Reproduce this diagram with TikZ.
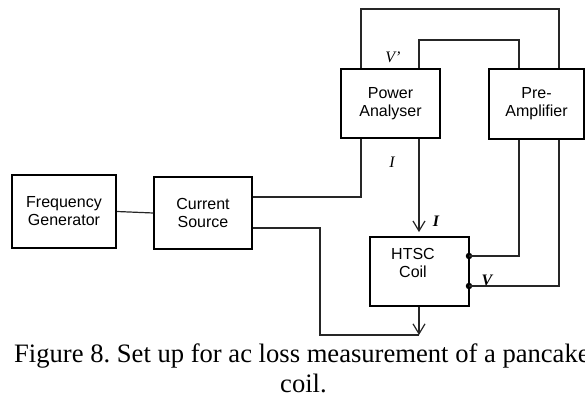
\documentclass[tikz,border=0pt]{standalone}
\usepackage{fontspec}
\setmainfont{Liberation Serif}
\newfontfamily\boxfont{Liberation Sans}
\usetikzlibrary{arrows.meta}
\frenchspacing
\begin{document}
\begin{tikzpicture}[x=1pt,y=-1pt,
  unit/.style={draw, line width=1.8pt, inner sep=0pt, align=center,
    font=\boxfont\fontsize{16}{18}\selectfont},
  boxtext/.style={inner sep=0pt, align=center, font=\boxfont\fontsize{16}{18}\selectfont},
  wire/.style={line width=1.2pt, black!85},
  flow/.style={wire, -{Straight Barb[length=10pt,width=12pt,line width=1.2pt]}},
  sym/.style={inner sep=0pt, font=\itshape\fontsize{16}{18}\selectfont},
  bsym/.style={inner sep=0pt, font=\bfseries\itshape\fontsize{16}{18}\selectfont},
  tap/.style={circle, fill=black, inner sep=0pt, minimum size=6.5pt},
  caption/.style={inner sep=0pt, anchor=base west, font=\fontsize{26.6}{30}\selectfont}]
\useasboundingbox (0,0) rectangle (585,398);

% instrument blocks
\node[unit, minimum width=104pt, minimum height=73pt, line width=2.2pt] (fg)  at (64,211.5)  {Frequency\\Generator};
\node[unit, minimum width=98pt,  minimum height=72pt, line width=1.5pt] (cs)  at (203,213)  {Current\\Source};
\node[unit, minimum width=99pt,  minimum height=69pt] (pa)  at (390.5,103.5) {Power\\Analyser};
\node[unit, minimum width=95pt,  minimum height=70pt] (amp) at (536.5,104) {Pre-\\Amplifier};
\node[unit, minimum width=99pt,  minimum height=69pt] (coil) at (419.5,271.5) {};
\node[boxtext] (coiltext) at (413,263) {HTSC\\Coil};

% routing points
\coordinate (csa) at (361,197);
\coordinate (csb) at (320,228);
\coordinate (ret) at (419,335);
\coordinate (o1) at (361,9);
\coordinate (o2) at (559,9);
\coordinate (i1) at (419,40);
\coordinate (i2) at (519,40);
\node[tap] (t1) at (469,256) {};
\node[tap] (t2) at (469,286) {};

% current path
\draw[wire] (fg.east) -- (cs.west);
\draw[wire] (cs.east |- csa) -- (csa) -- (csa |- pa.south);
\draw[wire] (cs.east |- csb) -- (csb) -- (csb |- ret) -- (ret);
\draw[flow] (ret |- coil.south) -- (ret);
\draw[flow, shorten >=4pt] (ret |- pa.south) -- (ret |- coil.north);

% voltage loops
\draw[wire] (o1 |- pa.north) -- (o1) -- (o2) -- (o2 |- amp.north);
\draw[wire] (i1 |- pa.north) -- (i1) -- (i2) -- (i2 |- amp.north);
\draw[wire] (t1.center) -- (t1 -| i2) -- (i2 |- amp.south);
\draw[wire] (t2.center) -- (t2 -| o2) -- (o2 |- amp.south);

% signal labels
\node[sym]  (vp) at (393,57)  {V’};
\node[sym]  (ia) at (392,162) {I};
\node[bsym] (ib) at (436,221) {I};
\node[bsym] (vb) at (487,280) {V};

% caption
\node[caption] (cap1) at (14,362) {Figure 8. Set up for ac loss measurement of a pancake};
\node[caption] (cap2) at (280,392) {coil.};
\end{tikzpicture}
\end{document}
